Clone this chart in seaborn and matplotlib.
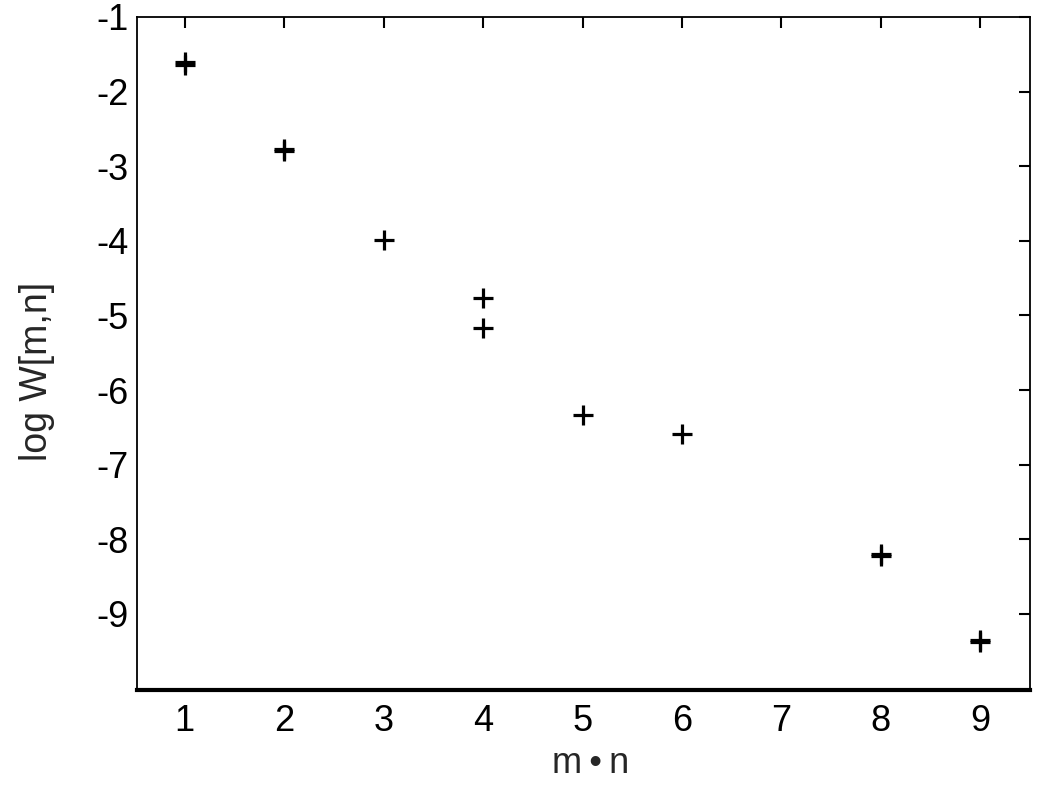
import matplotlib
matplotlib.use("Agg")
import matplotlib.pyplot as plt
import seaborn as sns
import pandas as pd

mn = [1, 1, 2, 2, 3, 4, 4, 5, 6, 8, 8, 9, 9]
logW = [-1.61, -1.64, -2.77, -2.79, -3.99, -4.76, -5.17, -6.34, -6.59, -8.20, -8.22, -9.35, -9.38]
xticks = [1, 2, 3, 4, 5, 6, 7, 8, 9]
yticks = [-1, -2, -3, -4, -5, -6, -7, -8, -9]

sns.set_style("white")
plt.rcParams['font.family'] = ['Liberation Sans', 'DejaVu Sans']

df = pd.DataFrame({"mn": mn, "logW": logW})
fig = plt.figure(figsize=(10.5, 7.89), dpi=100)
ax = fig.add_axes([0.1305, 0.1255, 0.8505, 0.853])
sns.scatterplot(data=df, x="mn", y="logW", marker="+", s=220, linewidth=2.3,
                color="black", ax=ax, legend=False)
ax.set_xlim(0.52, 9.5)
ax.set_ylim(-10.02, -1)
ax.set_xticks(xticks)
ax.set_xticklabels([str(t) for t in xticks])
ax.set_yticks(yticks)
ax.set_yticklabels([str(t) for t in yticks])
ax.tick_params(direction="in", length=8, width=1.5, labelsize=26, colors="black",
               top=True, right=True)
ax.tick_params(axis="x", pad=10)
ax.tick_params(axis="y", pad=6)
for s in ["left", "top", "right"]:
    ax.spines[s].set_linewidth(1.3)
    ax.spines[s].set_color("black")
ax.spines["bottom"].set_linewidth(3)
ax.spines["bottom"].set_color("black")
ax.set_xlabel("m\u2009\u2022\u2009n", fontsize=26)
ax.xaxis.set_label_coords(0.508, -0.083)
ax.set_ylabel("log W[m,n]", fontsize=27)
ax.yaxis.set_label_coords(-0.092, 0.474)
fig.savefig("out.png", dpi=100)
